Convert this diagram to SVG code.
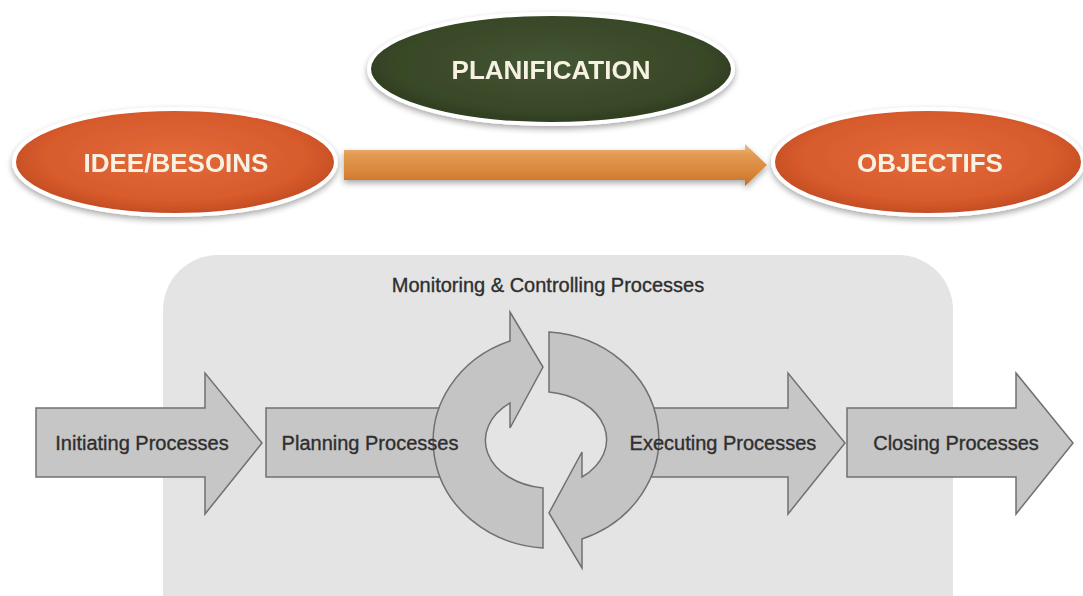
<svg xmlns="http://www.w3.org/2000/svg" width="1083" height="596" viewBox="0 0 1083 596">
<style>
.ell-t{font-family:"Liberation Sans",Arial,sans-serif;font-weight:bold;font-size:26px;fill:#f6f1e2;text-anchor:middle}
.proc{fill:#c6c6c6;stroke:#707070;stroke-width:1.5;stroke-linejoin:miter}
.arc{fill:#c4c4c4;stroke:#707070;stroke-width:1.5;stroke-linejoin:miter}
.pt{font-family:"Liberation Sans",Arial,sans-serif;font-size:20px;fill:#2e2e2e;stroke:#2e2e2e;stroke-width:0.35;text-anchor:middle}
</style>
<defs>
<radialGradient id="gOr" cx="50%" cy="45%" r="60%">
<stop offset="0" stop-color="#e46a3a"/>
<stop offset="0.7" stop-color="#d65a2c"/>
<stop offset="1" stop-color="#b9451e"/>
</radialGradient>
<radialGradient id="gGr" cx="50%" cy="45%" r="60%">
<stop offset="0" stop-color="#435533"/>
<stop offset="0.7" stop-color="#394828"/>
<stop offset="1" stop-color="#2b371e"/>
</radialGradient>
<linearGradient id="gAr" x1="0" y1="0" x2="0" y2="1">
<stop offset="0" stop-color="#f0bb84"/>
<stop offset="0.25" stop-color="#e29a52"/>
<stop offset="0.7" stop-color="#d8853a"/>
<stop offset="1" stop-color="#c46c24"/>
</linearGradient>
<filter id="sh" x="-10%" y="-10%" width="120%" height="130%">
<feGaussianBlur in="SourceAlpha" stdDeviation="3"/>
<feOffset dx="0" dy="3" result="b"/>
<feComponentTransfer><feFuncA type="linear" slope="0.35"/></feComponentTransfer>
<feMerge><feMergeNode/><feMergeNode in="SourceGraphic"/></feMerge>
</filter>
</defs>
<rect width="1083" height="596" fill="#ffffff"/>

<g id="planification" filter="url(#sh)">
<ellipse cx="551" cy="69" rx="182" ry="55" fill="url(#gGr)" stroke="#ffffff" stroke-width="4"/>
<text class="ell-t" x="551" y="79">PLANIFICATION</text>
</g>
<g id="idee" filter="url(#sh)">
<ellipse cx="175" cy="162" rx="161" ry="53" fill="url(#gOr)" stroke="#ffffff" stroke-width="4"/>
<text class="ell-t" x="176" y="172">IDEE/BESOINS</text>
</g>
<g id="objectifs" filter="url(#sh)">
<ellipse cx="928" cy="162" rx="155" ry="53" fill="url(#gOr)" stroke="#ffffff" stroke-width="4"/>
<text class="ell-t" x="930" y="172">OBJECTIFS</text>
</g>

<g id="connectors">
<path d="M344 150 H745 V144 L767 165 L745 186 V180 H344 Z" fill="url(#gAr)" filter="url(#sh)"/>
</g>

<g id="monitoring">
<rect x="163" y="255" width="790" height="400" rx="55" fill="#e4e4e4"/>
<text class="pt" x="548" y="292">Monitoring &amp; Controlling Processes</text>
</g>

<g id="initiating">
<path class="proc" d="M36 408 H205 V373 L262 443 L205 514 V477 H36 Z"/>
<text class="pt" x="142" y="450">Initiating Processes</text>
</g>
<g id="planning">
<path class="proc" d="M266 408 H470 V477 H266 Z"/>
</g>
<g id="executing">
<path class="proc" d="M625 408 H788 V373 L845 443 L788 514 V477 H625 Z"/>
</g>
<g id="closing">
<path class="proc" d="M847 408 H1016 V373 L1073 443 L1016 514 V477 H847 Z"/>
<text class="pt" x="956" y="450">Closing Processes</text>
</g>

<g id="cycle">
<path class="arc" d="M543 548 A118 107 0 0 1 510 341 L510 312 L543 367 L510 428 L510 403 A66 48 0 0 0 543 488 Z"/>
<path class="arc" transform="rotate(180 546 440)" d="M543 548 A118 107 0 0 1 510 341 L510 312 L543 367 L510 428 L510 403 A66 48 0 0 0 543 488 Z"/>
</g>

<g id="labels">
<text class="pt" x="370" y="450">Planning Processes</text>
<text class="pt" x="723" y="450">Executing Processes</text>
</g>
</svg>
